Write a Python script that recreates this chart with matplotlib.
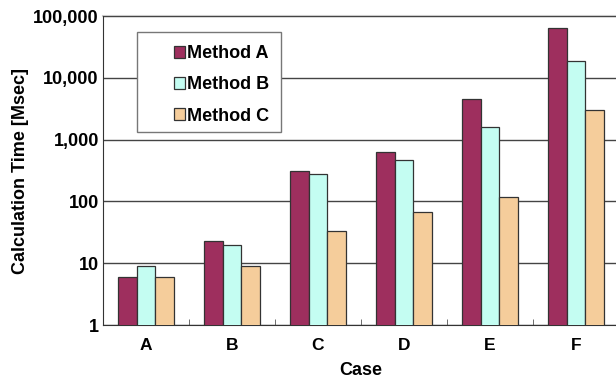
import matplotlib
matplotlib.use('Agg')
import matplotlib.pyplot as plt
import matplotlib.ticker as ticker
from matplotlib.patches import Rectangle
import numpy as np

## Data ##
cases = ['A', 'B', 'C', 'D', 'E', 'F']
method_a = [6, 23, 310, 630, 4500, 65000]
method_b = [9, 20, 280, 460, 1600, 19000]
method_c = [6, 9, 33, 67, 120, 3000]
methods = ['Method A', 'Method B', 'Method C']
colors = ['#9e2f5e', '#c4fdf2', '#f5cd9b']

plt.rcParams['font.family'] = ['Liberation Sans', 'DejaVu Sans']
plt.rcParams['font.weight'] = 'bold'

W, H = 616, 382
fig = plt.figure(figsize=(W/100, H/100), dpi=100)
ax = fig.add_axes([103/W, 1-325/H, 516/W, 309/H])

x = np.arange(len(cases))
w = 0.22
for k, (vals, lab, col) in enumerate(zip([method_a, method_b, method_c], methods, colors)):
    ax.bar(x + (k-1)*w, vals, w, color=col, edgecolor='#333333', linewidth=0.9,
           label=lab, zorder=3)

ax.set_yscale('log')
ax.set_ylim(1, 100000)
ax.set_xlim(-0.5, len(cases)-0.5)
ax.yaxis.set_major_locator(ticker.LogLocator(base=10, numticks=10))
ax.yaxis.set_minor_locator(ticker.NullLocator())
ax.yaxis.set_major_formatter(ticker.FuncFormatter(lambda v, p: '{:,.0f}'.format(v)))
ax.grid(which='major', axis='y', color='#444444', linewidth=1.0, zorder=0)

# category tick marks between groups
ax.set_xticks(x)
ax.set_xticklabels(cases)
ax.set_xticks(np.arange(0.5, len(cases)-1, 1), minor=True)
ax.tick_params(axis='x', which='major', length=0, pad=9, labelsize=12.5)
ax.tick_params(axis='x', which='minor', direction='in', length=4, color='#555555')
ax.tick_params(axis='y', length=0, pad=3, labelsize=13)

for s in ['top', 'right']:
    ax.spines[s].set_visible(False)
ax.spines['left'].set_color('#333333')
ax.spines['bottom'].set_color('#333333')
ax.axhline(100000, color='#cccccc', linewidth=1.5, zorder=1, clip_on=False)

ax.set_xlabel('Case', fontsize=13, fontweight='bold', labelpad=7)
ax.set_ylabel('Calculation Time [Msec]', fontsize=13, fontweight='bold', labelpad=3)

# legend box (white, covers grid) drawn in figure pixels
box = Rectangle((137/W, 1-132/H), 144/W, 100/H, transform=fig.transFigure,
                facecolor='white', edgecolor='#777777', linewidth=1.0, zorder=4)
ax.add_patch(box)
box.set_clip_on(False)
leg = ax.legend(loc='center left', bbox_to_anchor=(174/W, 1-85/H),
                bbox_transform=fig.transFigure, frameon=False, fontsize=13,
                handlelength=0.6, handleheight=0.6, handletextpad=0.12,
                labelspacing=0.78, borderpad=0, borderaxespad=0)
leg.set_zorder(5)

fig.savefig('out.png', dpi=100)
